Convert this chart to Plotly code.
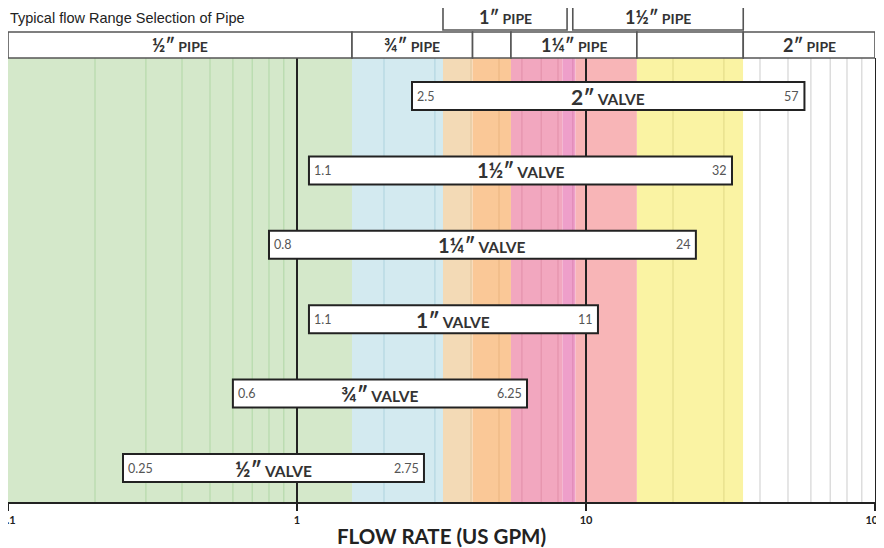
import math
import plotly.graph_objects as go

# ---------------- data ----------------
valve_names = ["½″", "¾″", "1″", "1¼″", "1½″", "2″"]
valve_low = [0.25, 0.6, 1.1, 0.8, 1.1, 2.5]
valve_high = [2.75, 6.25, 11, 24, 32, 57]
valve_low_txt = ["0.25", "0.6", "1.1", "0.8", "1.1", "2.5"]
valve_high_txt = ["2.75", "6.25", "11", "24", "32", "57"]

pipe_row1_names = ["½″", "¾″", "", "1¼″", "", "2″"]
pipe_row1_start = [0.1, 1.55, 4.05, 5.5, 15, 35]
pipe_row1_end = [1.55, 4.05, 5.5, 15, 35, 100]

pipe_row2_names = ["1″", "1½″"]
pipe_row2_start = [3.2, 9.0]
pipe_row2_end = [8.6, 35]

band_start = [0.1, 1.55, 3.2, 4.05, 5.5, 8.3, 9.2, 15, 35]
band_end = [1.55, 3.2, 4.05, 5.5, 8.3, 9.2, 15, 35, 100]
band_color = ["#d4e8ca", "#d3eaf0", "#f3dab6", "#fac897", "#f2a7bf",
              "#ee9fca", "#f8b5b7", "#faf3a3", "#ffffff"]
band_grid = ["#b8dbae", "#b5d8e2", "#e5c9a2", "#eeb985", "#e594ae",
             "#e08cb8", "#eba2a5", "#e6df8c", "#d8d8d8"]

x_ticks = [0.1, 1, 10, 100]
x_tick_text = ["0.1", "1", "10", "100"]

FONT = "Lato"
DARK = "#222222"

fig = go.Figure()

ypos = list(range(len(valve_names)))
fig.add_trace(go.Bar(
    y=ypos,
    x=[h - l for l, h in zip(valve_low, valve_high)],
    base=valve_low,
    orientation="h",
    width=0.376,
    marker=dict(color="white", line=dict(color=DARK, width=2)),
    hoverinfo="skip",
    showlegend=False,
))

shapes = []
# background bands
for s, e, c in zip(band_start, band_end, band_color):
    shapes.append(dict(type="rect", xref="x", yref="paper", x0=s, x1=e, y0=0, y1=1,
                       fillcolor=c, line=dict(width=0), layer="below"))
# minor log grid lines coloured by band
for dec in [0.1, 1, 10]:
    for k in range(2, 10):
        v = k * dec
        col = band_grid[-1]
        for s, e, g in zip(band_start, band_end, band_grid):
            if s <= v < e:
                col = g
                break
        shapes.append(dict(type="line", xref="x", yref="paper", x0=v, x1=v, y0=0, y1=1,
                           line=dict(color=col, width=1.3), layer="below"))

annotations = []
# pipe header boxes
r1_y0 = 1.0
r1_y1 = (502 - 32) / 444
r2_y0 = (502 - 30) / 444
r2_y1 = (502 - 4) / 444
HDR = "<b><span style='font-size:18px'>{}</span> PIPE</b>"
for name, s, e in zip(pipe_row1_names, pipe_row1_start, pipe_row1_end):
    shapes.append(dict(type="rect", xref="x", yref="paper", x0=s, x1=e, y0=r1_y0, y1=r1_y1,
                       fillcolor="white", line=dict(color="#555555", width=1.6)))
    if name:
        annotations.append(dict(
            x=(math.log10(s) + math.log10(e)) / 2, y=(r1_y0 + r1_y1) / 2,
            xref="x", yref="paper", showarrow=False, yanchor="middle", height=20,
            text=HDR.format(name),
            font=dict(family=FONT, size=14, color="#333333")))
for name, s, e in zip(pipe_row2_names, pipe_row2_start, pipe_row2_end):
    shapes.append(dict(type="rect", xref="x", yref="paper", x0=s, x1=e, y0=r2_y0, y1=r2_y1,
                       fillcolor="white", line=dict(color="#555555", width=1.6)))
    annotations.append(dict(
        x=(math.log10(s) + math.log10(e)) / 2, y=(r2_y0 + r2_y1) / 2,
        xref="x", yref="paper", showarrow=False, yanchor="middle", height=20,
        text=HDR.format(name),
        font=dict(family=FONT, size=14, color="#333333")))

# valve labels
for i, (n, lo, hi, lt, ht) in enumerate(zip(valve_names, valve_low, valve_high,
                                             valve_low_txt, valve_high_txt)):
    big = 21 if len(n) <= 2 else 20
    annotations.append(dict(
        x=(math.log10(lo) + math.log10(hi)) / 2, y=i, xref="x", yref="y",
        showarrow=False, yanchor="middle",
        text=f"<b><span style='font-size:{big}px'>{n}</span> VALVE</b>",
        font=dict(family=FONT, size=15.5, color="#333333")))
    annotations.append(dict(
        x=math.log10(lo), y=i, xref="x", yref="y", xanchor="left", xshift=3,
        showarrow=False, text=lt, font=dict(family=FONT, size=12.5, color="#555555")))
    annotations.append(dict(
        x=math.log10(hi), y=i, xref="x", yref="y", xanchor="right", xshift=-3,
        showarrow=False, text=ht, font=dict(family=FONT, size=12.5, color="#555555")))

# chart title
annotations.append(dict(
    x=0, y=(502 - 18) / 444, xref="paper", yref="paper", xanchor="left", yanchor="middle",
    showarrow=False, text="Typical flow Range Selection of Pipe",
    font=dict(family="Liberation Sans, Arial", size=14.5, color="#222222")))

# axis title as annotation below the axis
annotations.append(dict(
    x=0.5, y=(502 - 536) / 444, xref="paper", yref="paper", yanchor="middle",
    showarrow=False, text="<b>FLOW RATE (US GPM)</b>",
    font=dict(family=FONT, size=20.5, color=DARK)))

fig.update_layout(
    width=884, height=548,
    margin=dict(l=0, r=17, t=50, b=54),
    paper_bgcolor="white", plot_bgcolor="white",
    shapes=shapes, annotations=annotations,
    hovermode=False,
    xaxis=dict(
        type="log", range=[-1, 2], automargin=False,
        tickvals=x_ticks, ticktext=[f"<b>{t}</b>" for t in x_tick_text],
        tickfont=dict(family=FONT, size=11, color=DARK),
        ticklabeloverflow="allow",
        ticks="outside", ticklen=7, tickwidth=2, tickcolor=DARK,
        showline=True, linecolor=DARK, linewidth=2,
        showgrid=True, gridcolor=DARK, gridwidth=2,
        zeroline=False,
    ),
    yaxis=dict(
        range=[-0.457, 5.511], showticklabels=False, ticks="", automargin=False,
        showgrid=False, zeroline=False,
        showline=True, linecolor=DARK, linewidth=2, mirror=True,
    ),
)

fig.write_html("out.html")
